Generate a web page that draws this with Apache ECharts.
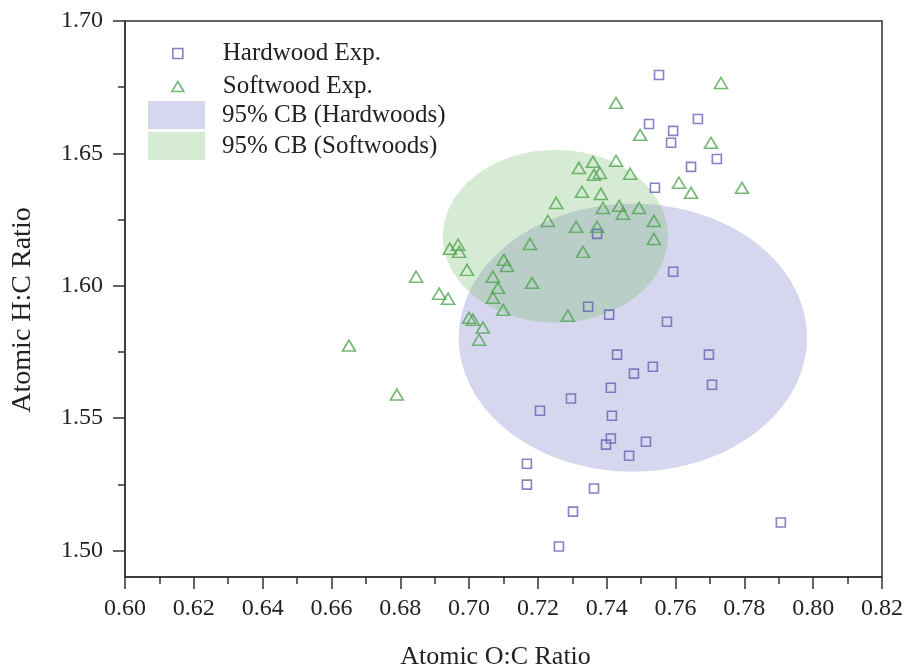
<!DOCTYPE html>
<html>
<head>
<meta charset="utf-8">
<script src="https://cdn.jsdelivr.net/npm/echarts@6/dist/echarts.min.js"></script>
<style>
  html, body { margin: 0; padding: 0; background: #fff; }
  #chart { width: 905px; height: 671px; }
</style>
</head>
<body>
<div id="chart"></div>
<script>
// Atomic O:C vs H:C ratios for hardwood and softwood samples
const hardwoodOC = [0.7552, 0.7523, 0.7665, 0.7593, 0.7587, 0.7720, 0.7645, 0.7540,
  0.7372, 0.7593, 0.7346, 0.7407, 0.7575, 0.7430, 0.7697, 0.7534, 0.7479, 0.7706,
  0.7412, 0.7296, 0.7415, 0.7412, 0.7398, 0.7514, 0.7465, 0.7206, 0.7168, 0.7168,
  0.7363, 0.7302, 0.7261, 0.7906];
const hardwoodHC = [1.6796, 1.6611, 1.6630, 1.6585, 1.6540, 1.6479, 1.6449, 1.6370,
  1.6196, 1.6053, 1.5921, 1.5891, 1.5864, 1.5740, 1.5740, 1.5694, 1.5668, 1.5626,
  1.5615, 1.5574, 1.5509, 1.5423, 1.5400, 1.5411, 1.5358, 1.5528, 1.5328, 1.5249,
  1.5234, 1.5147, 1.5015, 1.5106];

const softwoodOC = [0.7732, 0.7427, 0.7497, 0.7703, 0.7319, 0.7360, 0.7363, 0.7380,
  0.7427, 0.7468, 0.7610, 0.7645, 0.7793, 0.7253, 0.7328, 0.7383, 0.7389, 0.7436,
  0.7447, 0.7494, 0.7537, 0.7537, 0.7229, 0.7311, 0.7372, 0.7177, 0.7331, 0.7183,
  0.7101, 0.7110, 0.6846, 0.6913, 0.6939, 0.6651, 0.6790, 0.6994, 0.7069, 0.7084,
  0.7069, 0.7099, 0.7000, 0.7011, 0.7040, 0.7029, 0.7287, 0.6944, 0.6968, 0.6971];
const softwoodHC = [1.6766, 1.6691, 1.6570, 1.6540, 1.6445, 1.6468, 1.6419, 1.6426,
  1.6472, 1.6423, 1.6389, 1.6351, 1.6370, 1.6313, 1.6355, 1.6347, 1.6294, 1.6302,
  1.6272, 1.6294, 1.6245, 1.6177, 1.6245, 1.6223, 1.6223, 1.6158, 1.6128, 1.6011,
  1.6098, 1.6075, 1.6034, 1.5970, 1.5951, 1.5774, 1.5589, 1.6060, 1.6034, 1.5992,
  1.5955, 1.5909, 1.5879, 1.5872, 1.5842, 1.5796, 1.5887, 1.6140, 1.6155, 1.6128];

// 95% confidence bounds: [centre O:C, centre H:C, half-width O:C, half-height H:C]
const hardwoodBound = [0.7476, 1.5804, 0.0506, 0.0506];
const softwoodBound = [0.7251, 1.6187, 0.0327, 0.0326];

const seriesNames = ['Hardwood Exp.', 'Softwood Exp.', '95% CB (Hardwoods)', '95% CB (Softwoods)'];

const xTicks = [0.60, 0.62, 0.64, 0.66, 0.68, 0.70, 0.72, 0.74, 0.76, 0.78, 0.80, 0.82];
const yTicks = [1.50, 1.55, 1.60, 1.65, 1.70];
const yMinorTicks = [1.525, 1.575, 1.625, 1.675];

const FONT = 'Liberation Serif';
const INK = '#222';
const AXIS = '#333';
const HW_COLOR = '#6464b4';
const SW_COLOR = '#52a552';
const HW_FILL = 'rgba(120,120,200,0.30)';
const SW_FILL = 'rgba(120,190,110,0.30)';

const pairs = (xs, ys) => xs.map((x, i) => [x, ys[i]]);

// outline of an axis-aligned ellipse, traced in data space and projected
function ellipseItem(params, api) {
  const cx = api.value(0), cy = api.value(1);
  const rx = api.value(2), ry = api.value(3);
  const pts = [];
  const n = 160;
  for (let k = 0; k < n; k++) {
    const t = (k / n) * Math.PI * 2;
    pts.push(api.coord([cx + rx * Math.cos(t), cy + ry * Math.sin(t)]));
  }
  return {
    type: 'polygon',
    shape: { points: pts },
    style: { fill: api.visual('color') },
    silent: true
  };
}

const chart = echarts.init(document.getElementById('chart'));
chart.setOption({
  animation: false,
  backgroundColor: '#fff',
  textStyle: { fontFamily: FONT, color: INK },
  grid: {
    left: 125, right: 23, top: 21, bottom: 94,
    outerBoundsMode: 'none', containLabel: false,
    show: true, borderColor: AXIS, borderWidth: 1.5, backgroundColor: 'transparent'
  },
  legend: [
    {
      left: 171, top: 41, orient: 'vertical', padding: 0,
      itemWidth: 12, itemHeight: 10, itemGap: 8,
      selectedMode: false,
      textStyle: { fontFamily: FONT, fontSize: 25, color: INK, padding: [0, 0, 0, 34] },
      data: [
        { name: seriesNames[0], icon: 'path://M0 0H10V10H0Z',
          itemStyle: { color: 'rgba(0,0,0,0)', borderColor: HW_COLOR, borderWidth: 1.6 } },
        { name: seriesNames[1], icon: 'triangle',
          itemStyle: { color: 'rgba(0,0,0,0)', borderColor: SW_COLOR, borderWidth: 1.6 } }
      ]
    },
    {
      left: 148, top: 101, orient: 'vertical', padding: 0,
      itemWidth: 57, itemHeight: 28, itemGap: 3,
      selectedMode: false,
      textStyle: { fontFamily: FONT, fontSize: 25, color: INK, padding: [0, 0, 0, 12] },
      data: [
        { name: seriesNames[2], icon: 'rect', itemStyle: { color: HW_FILL, borderWidth: 0 } },
        { name: seriesNames[3], icon: 'rect', itemStyle: { color: SW_FILL, borderWidth: 0 } }
      ]
    }
  ],
  xAxis: {
    type: 'value', min: 0.60, max: 0.82, interval: 0.02,
    name: 'Atomic O:C Ratio', nameLocation: 'middle', nameGap: 67,
    nameTextStyle: { fontFamily: FONT, fontSize: 26, color: INK, padding: [0, 16, 0, 0] },
    axisLine: { show: true, onZero: false, lineStyle: { color: AXIS, width: 1.5 } },
    axisTick: { show: true, inside: false, length: 12, lineStyle: { color: AXIS, width: 1.5 } },
    minorTick: { show: true, splitNumber: 2, length: 7, lineStyle: { color: AXIS, width: 1.5 } },
    axisLabel: {
      margin: 20, fontFamily: FONT, fontSize: 24, color: INK,
      customValues: xTicks,
      formatter: v => v.toFixed(2)
    },
    splitLine: { show: false }
  },
  yAxis: [
    {
      type: 'value', min: 1.49, max: 1.70,
      name: 'Atomic H:C Ratio', nameLocation: 'middle', nameGap: 88,
      nameTextStyle: { fontFamily: FONT, fontSize: 28, color: INK, padding: [0, 22, 0, 0] },
      axisLine: { show: true, onZero: false, lineStyle: { color: AXIS, width: 1.5 } },
      axisTick: { show: true, inside: false, length: 12, customValues: yTicks,
        lineStyle: { color: AXIS, width: 1.5 } },
      axisLabel: {
        margin: 22, fontFamily: FONT, fontSize: 24, color: INK,
        customValues: yTicks,
        formatter: v => v.toFixed(2)
      },
      splitLine: { show: false }
    },
    {
      type: 'value', min: 1.49, max: 1.70, position: 'left', offset: 0,
      axisLine: { show: false, onZero: false },
      axisTick: { show: true, inside: false, length: 7, customValues: yMinorTicks,
        lineStyle: { color: AXIS, width: 1.5 } },
      axisLabel: { show: false },
      splitLine: { show: false }
    }
  ],
  series: [
    {
      name: seriesNames[2], type: 'custom', renderItem: ellipseItem,
      itemStyle: { color: HW_FILL }, encode: { x: 0, y: 1 }, z: 1,
      data: [hardwoodBound], clip: true
    },
    {
      name: seriesNames[3], type: 'custom', renderItem: ellipseItem,
      itemStyle: { color: SW_FILL }, encode: { x: 0, y: 1 }, z: 1,
      data: [softwoodBound], clip: true
    },
    {
      name: seriesNames[0], type: 'scatter', symbol: 'rect', symbolSize: 9, z: 3,
      itemStyle: { color: 'rgba(0,0,0,0)', borderColor: HW_COLOR, borderWidth: 1.6 },
      emphasis: { disabled: true },
      data: pairs(hardwoodOC, hardwoodHC)
    },
    {
      name: seriesNames[1], type: 'scatter', symbol: 'triangle', symbolSize: [13, 11], z: 3,
      itemStyle: { color: 'rgba(0,0,0,0)', borderColor: SW_COLOR, borderWidth: 1.6 },
      emphasis: { disabled: true },
      data: pairs(softwoodOC, softwoodHC)
    }
  ]
});
</script>
</body>
</html>
